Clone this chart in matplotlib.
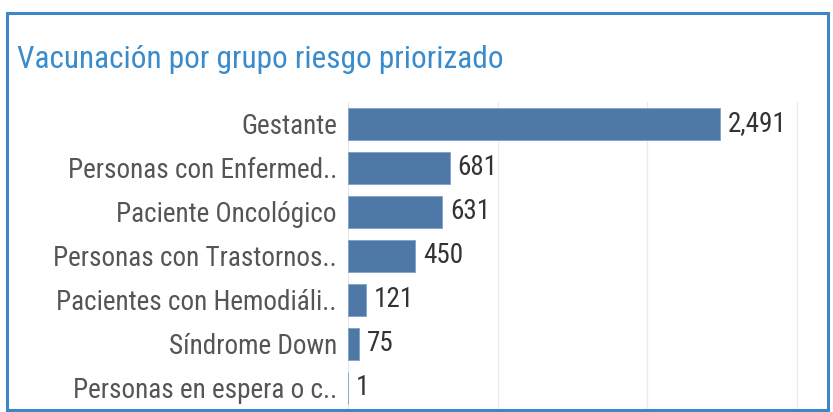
import matplotlib
matplotlib.use("Agg")
import matplotlib.pyplot as plt
from matplotlib.patches import Rectangle

categories = ["Gestante", "Personas con Enfermed..", "Paciente Oncológico",
              "Personas con Trastornos..", "Pacientes con Hemodiáli..",
              "Síndrome Down", "Personas en espera o c.."]
values = [2491, 681, 631, 450, 121, 75, 1]
value_labels = ["2,491", "681", "631", "450", "121", "75", "1"]
title = "Vacunación por grupo riesgo priorizado"

fam = ["Roboto Condensed", "DejaVu Sans"]

W, H = 833, 412
fig = plt.figure(figsize=(W / 100, H / 100), dpi=100)
fig.patch.set_facecolor("white")

fig.patches.append(Rectangle((7 / W, 1 - 410 / H), (828 - 7) / W, (410 - 13) / H,
                             transform=fig.transFigure, fill=False,
                             edgecolor="#3d87c8", linewidth=2.2, zorder=10))
fig.text(17 / W, 1 - 60 / H, title, fontsize=22.5, color="#3a8bcb",
         family=fam, fontweight="normal", va="center", ha="left")

ax_left, ax_right, ax_top, ax_bot = 348, 822, 102, 409
ax = fig.add_axes([ax_left / W, 1 - ax_bot / H, (ax_right - ax_left) / W, (ax_bot - ax_top) / H])
y = list(range(len(categories)))
ax.barh(y, values, height=0.73, color="#4e79a7", edgecolor="#7ea3cc", linewidth=0.6, zorder=3)
ax.set_ylim(6.48, -0.5)
ax.set_xlim(0, 3170)
ax.set_xticks([1000, 2000, 3000])
ax.set_xticklabels([])
ax.tick_params(axis="x", length=0)
ax.grid(axis="x", color="#ebebeb", linewidth=1, zorder=0)
ax.set_yticks(y)
ax.set_yticklabels(categories, fontsize=19.5, color="#555555", family=fam, fontweight="normal")
ax.tick_params(axis="y", length=0, pad=8)
for s in ["top", "right", "bottom"]:
    ax.spines[s].set_visible(False)
ax.spines["left"].set_color("#e6e6e6")
for yi, v, lab in zip(y, values, value_labels):
    ax.text(v + 50, yi, lab, va="center", ha="left", fontsize=19.5,
            color="#333333", family=fam, fontweight="normal")

fig.savefig("out.png", dpi=100)
